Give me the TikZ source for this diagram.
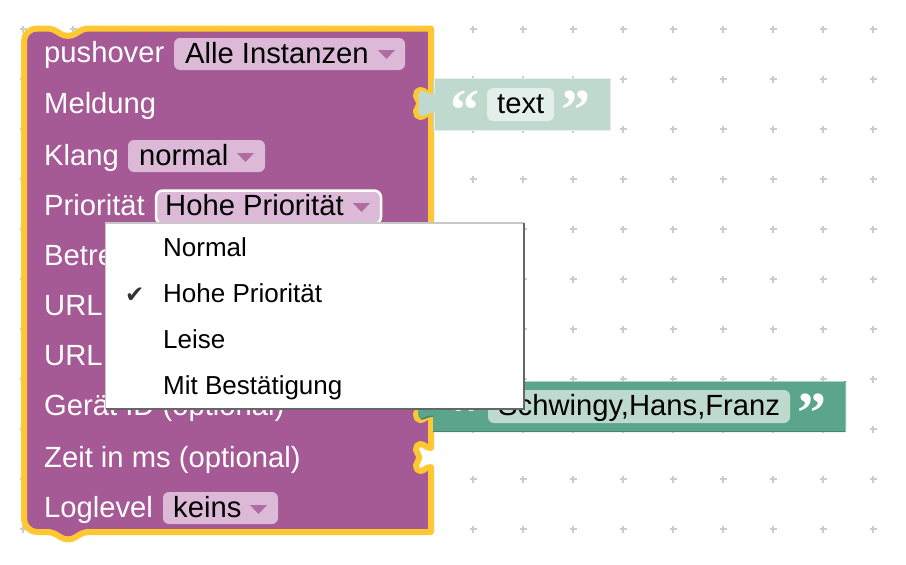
\documentclass[tikz,border=0pt]{standalone}
\usepackage{fontspec}
\setmainfont{Liberation Sans}
\newfontfamily\quotefont[Scale=1]{Liberation Serif}
\newfontfamily\checkfont{DejaVu Sans}
\definecolor{blockpurple}{HTML}{A55A96}
\definecolor{fieldpurple}{HTML}{DCB9D6}
\definecolor{arrowpurple}{HTML}{B06CA3}
\definecolor{hatyellow}{HTML}{FFC832}
\definecolor{lightgreen}{HTML}{BFD9CF}
\definecolor{lightfield}{HTML}{E3EFEB}
\definecolor{darkgreen}{HTML}{5BA58C}
\definecolor{darkfield}{HTML}{BEDACF}
\tikzset{
  lbl/.style={anchor=base west,inner sep=0pt,text=white,font=\fontsize{29.2}{31}\selectfont},
  fieldtext/.style={anchor=base west,inner sep=0pt,text=black,font=\fontsize{29.2}{31}\selectfont},
  menutext/.style={anchor=base west,inner sep=0pt,text=black,font=\fontsize{26}{28}\selectfont},
  fieldbox/.style={fill=fieldpurple,rounded corners=6pt},
  tri/.style={fill=arrowpurple,draw=none},
  quotes/.style={inner sep=0pt,text=white,font=\quotefont\bfseries\fontsize{58}{58}\selectfont},
}
\newcommand\inputnotch[1]{-- (431,#1+6) .. controls (425,#1+6) and (425,#1+2) .. (420,#1+2) .. controls (417,#1+2) and (416,#1+5) .. (416,#1+8) .. controls (416,#1+11) and (419.5,#1+12) .. (419.5,#1+15.5) .. controls (419.5,#1+19) and (416,#1+20) .. (416,#1+23) .. controls (416,#1+26) and (417,#1+29) .. (420,#1+29) .. controls (425,#1+29) and (425,#1+25) .. (431,#1+25)}
\newcommand\outputtab[1]{-- (433,#1+25) .. controls (428,#1+25) and (425,#1+28) .. (421,#1+28) .. controls (419,#1+28) and (418,#1+25) .. (418,#1+22) .. controls (418,#1+19) and (419,#1+18) .. (419,#1+15.5) .. controls (419,#1+13) and (418,#1+12) .. (418,#1+9) .. controls (418,#1+6) and (419,#1+3) .. (421,#1+3) .. controls (425,#1+3) and (428,#1+6) .. (433,#1+6)}
\newcommand\droparrow[2]{\fill[tri] (#1,#2) -- (#1+17,#2) -- (#1+8.5,#2+9) -- cycle;}
\begin{document}
\begin{tikzpicture}[x=1pt,y=-1pt]
\useasboundingbox (0,0) rectangle (906,565);
% workspace grid
\foreach \gx in {23,73,...,873}
  \foreach \gy in {29,79,...,529}
    \draw[line width=1.6pt,color=black!20] (\gx-3.5,\gy) -- (\gx+3.5,\gy) (\gx,\gy-3.5) -- (\gx,\gy+3.5);
% main block
\draw[fill=blockpurple,draw=hatyellow,line width=6pt,line join=round]
  (24,41) .. controls (24,34) and (30,28.5) .. (37,28.5) -- (49,28.5)
  .. controls (53,28.5) and (55,30.5) .. (61,34) .. controls (65,36.5) and (71,36.5) .. (75,34) .. controls (81,30.5) and (83,28.5) .. (87,28.5)
  -- (431,28.5)
  \inputnotch{88}
  \inputnotch{391}
  \inputnotch{442}
  -- (431,532) -- (87,532) .. controls (83,532) and (81,534) .. (75,537.5) .. controls (71,540) and (65,540) .. (61,537.5) .. controls (55,534) and (53,532) .. (49,532) -- (37,532)
  .. controls (30,532) and (24,526) .. (24,519) -- cycle;
% value blocks
\fill[lightgreen] (433,78.5) -- (610.5,78.5) -- (610.5,130.5) -- (433,130.5) \outputtab{88} -- cycle;
\draw[line width=1pt,color=lightfield] (434,94) -- (434,78.5) -- (610.5,78.5) -- (610.5,130.5) -- (434,130.5) -- (434,113);
\fill[darkgreen] (433,381) -- (846,381) -- (846,432) -- (433,432) \outputtab{391} -- cycle;
\draw[line width=1.4pt,color=darkgreen!50!white] (433,381.5) -- (844,381.5);
\draw[line width=1pt,color=darkgreen!70!white] (845.5,382) -- (845.5,432);
\draw[line width=1.6pt,color=darkgreen!80!black] (433,431.5) -- (845,431.5);
\draw[line width=1.6pt,color=darkgreen!80!black] (433,416) .. controls (428,416) and (425,419) .. (421,419);
% fields
\fill[lightfield,rounded corners=6pt] (487,88) rectangle (554,121);
\fill[darkfield,rounded corners=6pt] (488,390) rectangle (790,423);
\fill[fieldbox] (174,38) rectangle (405,70);
\fill[fieldbox] (128,140) rectangle (265,172);
\draw[fill=fieldpurple,draw=white,line width=2.5pt,rounded corners=7pt] (156,190.5) rectangle (381,224);
\fill[fieldbox] (163,492) rectangle (278,524);
\droparrow{378}{50}
\droparrow{237}{153}
\droparrow{353}{203}
\droparrow{250}{505}
% labels
\node[lbl] (l1) at (44,62.5) {pushover};
\node[lbl] (l2) at (44,113.5) {Meldung};
\node[lbl] (l3) at (44,165) {Klang};
\node[lbl] (l4) at (44,215) {Priorität};
\node[lbl] (l5) at (44,265) {Betreff};
\node[lbl] (l6) at (44,315) {URL};
\node[lbl] (l7) at (44,365) {URL};
\node[lbl] (l8) at (44,415) {Gerät ID (optional)};
\node[lbl] (l9) at (44,467) {Zeit in ms (optional)};
\node[lbl] (l10) at (44,517) {Loglevel};
\node[fieldtext] (f1) at (185,63.5) {Alle Instanzen};
\node[fieldtext] (f2) at (139,165.5) {normal};
\node[fieldtext] (f3) at (165,215.5) {Hohe Priorität};
\node[fieldtext] (f4) at (173,517.5) {keins};
\node[fieldtext] (v1) at (497,113.5) {text};
\node[fieldtext] (v2) at (498,415.5) {Schwingy,Hans,Franz};
% quote marks
\node[quotes,anchor=center] (q1) at (465,110) {“};
\node[quotes,anchor=center] (q2) at (576,110) {”};
\node[quotes,anchor=center] (q3) at (465,413) {“};
\node[quotes,anchor=center] (q4) at (812,413) {”};
% menu
\fill[white] (105.5,223) rectangle (524,409);
\draw[line width=1.4pt,color=black!22] (105.5,409) -- (105.5,223) -- (524,223);
\draw[line width=1.6pt,color=black!60] (524,223) -- (524,409) -- (105.5,409);
\node[menutext] (m1) at (163,256) {Normal};
\node[menutext] (m2) at (163,302) {Hohe Priorität};
\node[menutext] (m3) at (163,348) {Leise};
\node[menutext] (m4) at (163,394) {Mit Bestätigung};
\node[anchor=base west,inner sep=0pt,text=black!80,font=\checkfont\fontsize{23}{25}\selectfont] (chk) at (125,302) {✔};
\end{tikzpicture}
\end{document}
